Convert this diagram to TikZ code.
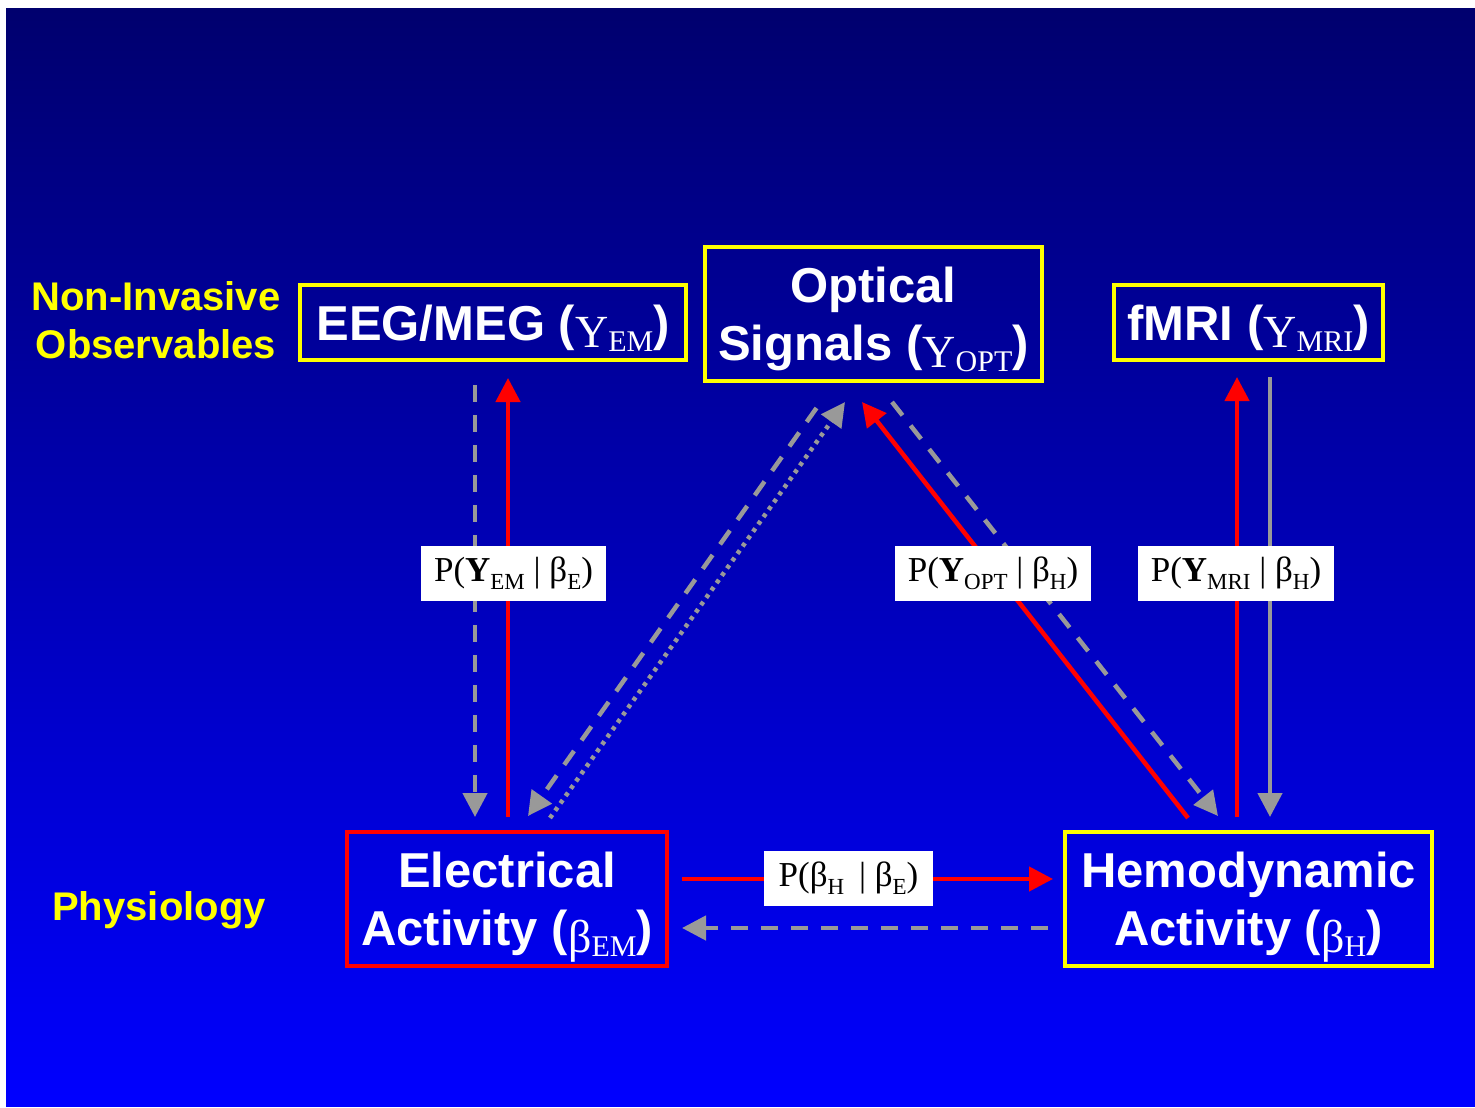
\documentclass[tikz,border=0pt]{standalone}
\usepackage{fontspec}
\setmainfont{Liberation Sans}
\newfontfamily\tms{Liberation Serif}
\usetikzlibrary{arrows.meta,calc}
\definecolor{navy}{HTML}{00006E}
\definecolor{brightblue}{HTML}{0000FF}
\definecolor{gold}{HTML}{FFFF00}
\definecolor{fwdred}{HTML}{FF0000}
\definecolor{backgray}{HTML}{999999}
\newcommand{\bigvar}[2]{{\tms\mdseries\fontsize{46}{46}\selectfont\raisebox{-7pt}{#1}\raisebox{-11pt}{\fontsize{30}{30}\selectfont #2}}}
\newcommand{\pvar}[2]{#1\raisebox{-8pt}{\fontsize{23}{23}\selectfont #2}}
\tikzset{obs/.style={draw=gold,line width=4pt,text=white,align=center,inner sep=0pt,
    text depth=0pt,font=\fontsize{49}{58}\selectfont\bfseries},
  phys/.style={obs,draw=fwdred},
  side/.style={text=gold,align=center,font=\fontsize{40}{48}\selectfont\bfseries},
  prob/.style={fill=white,text=black,inner sep=0pt,minimum height=55pt,
    font=\tms\fontsize{35}{35}\selectfont},
  fwd/.style={draw=fwdred,line width=4.5pt,-{Triangle[length=24pt,width=24pt]}},
  back/.style={draw=backgray,line width=4.5pt,-{Triangle[length=24pt,width=24pt]}},
  dashline/.style={dash pattern=on 17pt off 13pt},
  dotline/.style={dash pattern=on 4pt off 5pt}}

\begin{document}
\begin{tikzpicture}[x=1pt,y=-1pt]
\useasboundingbox (0,0) rectangle (1475,1108);
\shade[top color=navy,bottom color=brightblue] (6,9) rectangle (1475,1106);
% observables
\node[obs,minimum width=386pt,minimum height=75pt] (eeg) at (493,322.5) {EEG/MEG (\bigvar{Y}{EM})};
\node[obs,minimum width=337pt,minimum height=134pt,text depth=-3pt] (opt) at (873.5,314) {Optical\\Signals (\bigvar{Y}{OPT})};
\node[obs,minimum width=269pt,minimum height=75pt] (fmri) at (1248.5,322.5) {fMRI (\bigvar{Y}{MRI})};
% physiology
\node[phys,minimum width=320pt,minimum height=134pt] (elec) at (507,899) {Electrical\\Activity (\bigvar{β}{EM})};
\node[obs,minimum width=367pt,minimum height=134pt] (hemo) at (1248.5,899) {Hemodynamic\\Activity (\bigvar{β}{H})};
\node[side] (obslbl) at (156,320) {Non-Invasive\\Observables};
\node[side] (physlbl) at (159,910) {Physiology};
% EEG/MEG
\draw[back,dashline] ([shift={(-18,23)}]eeg.south) -- ([shift={(-32,-13)}]elec.north);
\draw[fwd] ([shift={(1,-13)}]elec.north) -- ([shift={(15,16)}]eeg.south);
% optical
\draw[back,dashline] ([shift={(-57,25)}]opt.south) -- ([shift={(21,-14)}]elec.north);
\draw[back,dotline] ([shift={(43,-12)}]elec.north) -- ([shift={(-28.5,19)}]opt.south);
\draw[fwd] ([shift={(-60.5,-12)}]hemo.north) -- ([shift={(-11.5,19)}]opt.south);
\draw[back,dashline] ([shift={(18.5,19)}]opt.south) -- ([shift={(-30.5,-14)}]hemo.north);
% fMRI
\draw[fwd] ([shift={(-11.5,-13)}]hemo.north) -- ([shift={(-11.5,15)}]fmri.south);
\draw[back] ([shift={(21.5,15)}]fmri.south) -- ([shift={(21.5,-13)}]hemo.north);
% coupling
\draw[fwd] ([shift={(13,-20)}]elec.east) -- ([shift={(-10,-20)}]hemo.west);
\draw[back,dashline] ([shift={(-15,29)}]hemo.west) -- ([shift={(13,29)}]elec.east);
% likelihoods
\node[prob,minimum width=185pt] (pem) at (513.5,573.5) {P(\pvar{\textbf{Y}}{EM} | \pvar{β}{E})};
\node[prob,minimum width=196pt] (popt) at (993,573.5) {P(\pvar{\textbf{Y}}{OPT} | \pvar{β}{H})};
\node[prob,minimum width=196pt] (pmri) at (1236,573.5) {P(\pvar{\textbf{Y}}{MRI} | \pvar{β}{H})};
\node[prob,minimum width=169pt] (phe) at (848.5,878) {P(\pvar{β}{H}\hspace{6pt} | \pvar{β}{E})};
\end{tikzpicture}
\end{document}
